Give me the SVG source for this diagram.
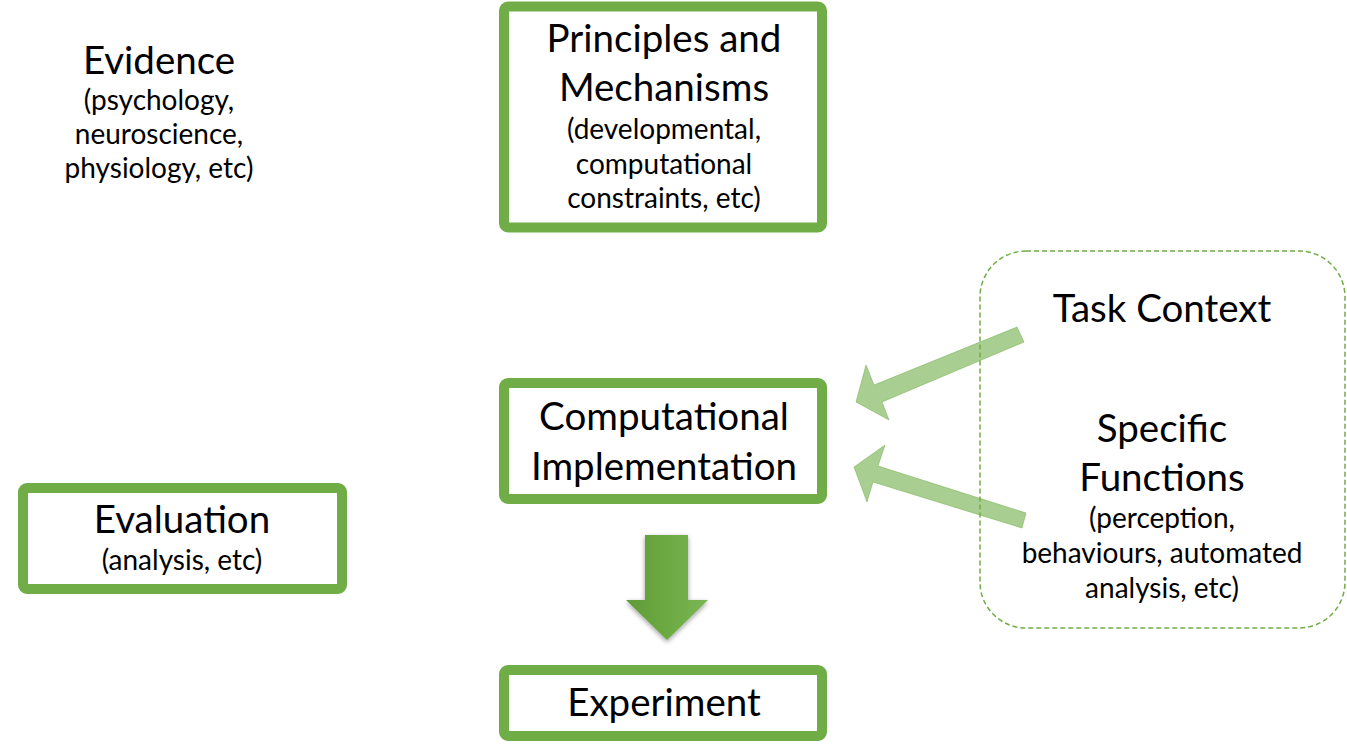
<svg xmlns="http://www.w3.org/2000/svg" width="1347" height="753" viewBox="0 0 1347 753">
<defs>
<style>
.box{fill:#fff;stroke:#70AD47;stroke-width:10}
.big{font-family:Lato,"Liberation Sans",sans-serif;font-size:38.5px;fill:#000;text-anchor:middle}
.sm{font-family:Lato,"Liberation Sans",sans-serif;font-size:28px;fill:#000;text-anchor:middle}
.side{fill:#70AD47;fill-opacity:0.6;stroke:#70AD47;stroke-opacity:0.5;stroke-width:1}
</style>
<linearGradient id="dg" x1="0" y1="0" x2="1" y2="0">
<stop offset="0" stop-color="#5F9B38"/>
<stop offset="0.5" stop-color="#6CAA42"/>
<stop offset="1" stop-color="#7AB655"/>
</linearGradient>
<filter id="sh" x="-30%" y="-30%" width="160%" height="160%">
<feGaussianBlur in="SourceAlpha" stdDeviation="2.5"/>
<feOffset dx="0" dy="2" result="b"/>
<feComponentTransfer><feFuncA type="linear" slope="0.4"/></feComponentTransfer>
<feMerge><feMergeNode/><feMergeNode in="SourceGraphic"/></feMerge>
</filter>
</defs>
<rect width="1347" height="753" fill="#fff"/>
<g id="context">
<rect x="980" y="251" width="365" height="377" rx="46" ry="46" fill="none" stroke="#70AD47" stroke-width="1.5" stroke-dasharray="5,3"/>
</g>
<g id="connectors">
<polygon class="side" points="1017,327 874,385 866,365 856,402 889,420 882,402 1024,342"/>
<polygon class="side" points="1026,513 878,466 885,445 854,467 867,502 873,482 1022,528"/>
<polygon fill="url(#dg)" filter="url(#sh)" points="645,535 688,535 688,600 708,600 667,640 626,600 645,600"/>
</g>
<g id="evidence">
<text class="big" x="159" y="74">Evidence</text>
<text class="sm" x="159" y="110">(psychology,</text>
<text class="sm" x="159" y="144">neuroscience,</text>
<text class="sm" x="159" y="178">physiology, etc)</text>
</g>
<g id="principles">
<rect class="box" x="504" y="6.5" width="318" height="221" rx="4"/>
<text class="big" x="664" y="52">Principles and</text>
<text class="big" x="664" y="101">Mechanisms</text>
<text class="sm" x="664" y="139">(developmental,</text>
<text class="sm" x="664" y="174">computational</text>
<text class="sm" x="664" y="208">constraints, etc)</text>
</g>
<g id="implementation">
<rect class="box" x="504" y="383" width="318" height="116" rx="4"/>
<text class="big" x="664" y="430">Computational</text>
<text class="big" x="664" y="480">Implementation</text>
</g>
<g id="experiment">
<rect class="box" x="504" y="670" width="318" height="66" rx="4"/>
<text class="big" x="664" y="716">Experiment</text>
</g>
<g id="evaluation">
<rect class="box" x="23" y="488" width="319" height="101" rx="4"/>
<text class="big" x="182" y="533">Evaluation</text>
<text class="sm" x="182" y="570">(analysis, etc)</text>
</g>
<g id="task">
<text class="big" x="1162" y="322">Task Context</text>
</g>
<g id="functions">
<text class="big" x="1162" y="442">Specific</text>
<text class="big" x="1162" y="491">Functions</text>
<text class="sm" x="1162" y="528">(perception,</text>
<text class="sm" x="1162" y="563">behaviours, automated</text>
<text class="sm" x="1162" y="598">analysis, etc)</text>
</g>
</svg>
